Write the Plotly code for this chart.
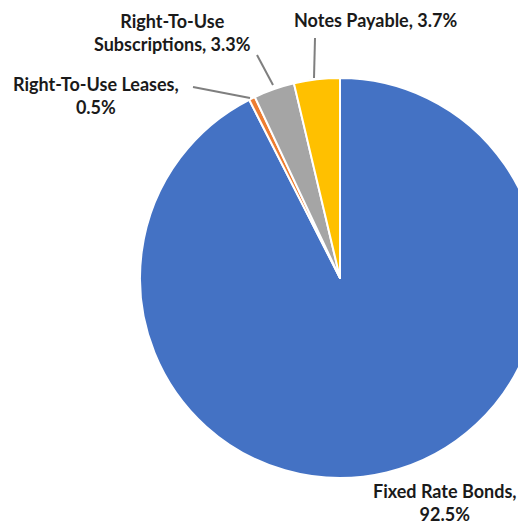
import plotly.graph_objects as go

categories = ["Fixed Rate Bonds", "Right-To-Use Leases", "Right-To-Use Subscriptions", "Notes Payable"]
values = [92.5, 0.5, 3.3, 3.7]
colors = ["#4472C4", "#ED7D31", "#A5A5A5", "#FFC000"]
label_texts = ["Fixed Rate Bonds,<br>92.5%", "Right-To-Use Leases,<br>0.5%",
               "Right-To-Use<br>Subscriptions, 3.3%", "Notes Payable, 3.7%"]

W, H = 560, 525
cx, cy, r = 340, 278, 200

fig = go.Figure(go.Pie(
    labels=categories, values=values, sort=False, direction="clockwise", rotation=0,
    marker=dict(colors=colors, line=dict(color="white", width=2)),
    textinfo="none", hoverinfo="label+percent", showlegend=False,
    domain=dict(x=[(cx - r) / W, (cx + r) / W], y=[(H - cy - r) / H, (H - cy + r) / H]),
))

font = dict(family="Lato, 'Open Sans', sans-serif", size=18, color="#1a1a1a")
# label positions in pixels (x center, y center)
label_pos = [(445, 502), (96, 96), (172, 32), (375, 20)]
for txt, (x, y) in zip(label_texts, label_pos):
    fig.add_annotation(x=x / W, y=1 - y / H, xref="paper", yref="paper", text="<b>" + txt + "</b>",
                       showarrow=False, font=font, align="center", xanchor="center", yanchor="middle")

leaders = [((193, 87), (250, 98)), ((257, 55), (273, 85)), ((315, 38), (314, 78))]
for (x0, y0), (x1, y1) in leaders:
    fig.add_shape(type="line", xref="paper", yref="paper", x0=x0 / W, y0=1 - y0 / H, x1=x1 / W, y1=1 - y1 / H,
                  line=dict(color="#7F7F7F", width=2))

fig.update_layout(width=W, height=H, margin=dict(l=0, r=0, t=0, b=0),
                  paper_bgcolor="white", plot_bgcolor="white")
fig.write_html("out.html")
